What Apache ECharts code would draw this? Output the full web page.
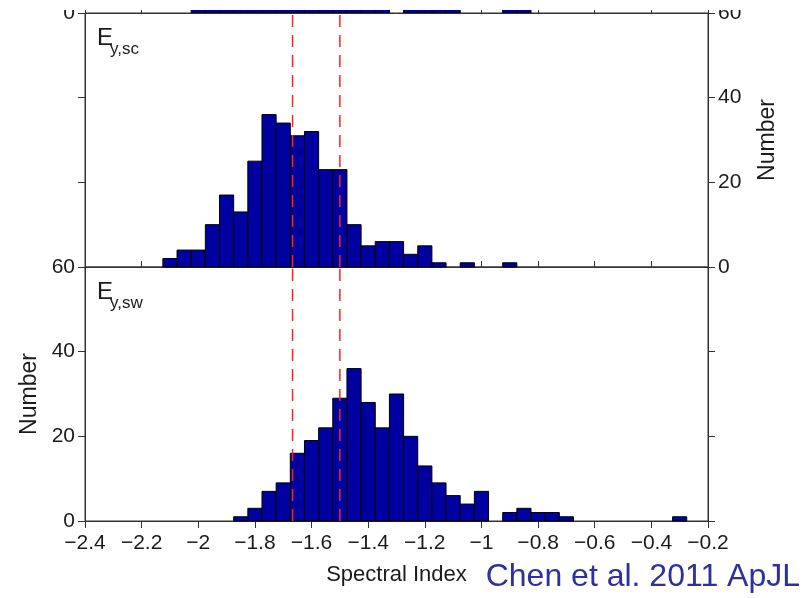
<!DOCTYPE html>
<html>
<head>
<meta charset="utf-8">
<script src="https://cdn.jsdelivr.net/npm/echarts@6/dist/echarts.min.js"></script>
<style>
  html, body { margin: 0; padding: 0; background: #fff; }
  #chart { width: 809px; height: 598px; }
</style>
</head>
<body>
<div id="chart"></div>
<script>
// histogram bins (centre of each 0.05 wide bin) and counts
var binWidth = 0.05;

// panel above, only its bottom edge is visible in the picture
var binsTop = [-2.00, -1.95, -1.90, -1.85, -1.80, -1.75, -1.70, -1.65, -1.60, -1.55, -1.50, -1.45, -1.40, -1.35,
  -1.25, -1.20, -1.15, -1.10, -0.90, -0.85];
var countsTop = [3, 6, 10, 15, 22, 28, 33, 35, 30, 24, 18, 12, 8, 5, 4, 3, 2, 2, 1, 1];

// E y,sc
var binsSc = [-2.10, -2.05, -2.00, -1.95, -1.90, -1.85, -1.80, -1.75, -1.70, -1.65, -1.60, -1.55, -1.50, -1.45,
  -1.40, -1.35, -1.30, -1.25, -1.20, -1.15, -1.05, -0.90];
var countsSc = [2, 4, 4, 10, 17, 13, 25, 36, 34, 31, 32, 23, 23, 10, 5, 6, 6, 3, 5, 1, 1, 1];

// E y,sw
var binsSw = [-1.85, -1.80, -1.75, -1.70, -1.65, -1.60, -1.55, -1.50, -1.45, -1.40, -1.35, -1.30, -1.25, -1.20,
  -1.15, -1.10, -1.05, -1.00, -0.90, -0.85, -0.80, -0.75, -0.70, -0.30];
var countsSw = [1, 3, 7, 9, 16, 19, 22, 29, 36, 28, 22, 30, 20, 13, 9, 6, 4, 7, 2, 3, 2, 2, 1, 1];

// red dashed reference lines
var refLines = [-1.667, -1.5];

var xTicks = [-2.4, -0.2, 0.2];   // min, max, step
var yTicks = [0, 60, 20];

var FONT = 'Liberation Sans, Arial, sans-serif';
var AX = '#333';

function pairs(xs, ys) {
  var out = [];
  for (var i = 0; i < xs.length; i++) out.push([xs[i], ys[i]]);
  return out;
}

function renderBar(params, api) {
  var x = api.value(0);
  var y = api.value(1);
  var p0 = api.coord([x - binWidth / 2, y]);
  var p1 = api.coord([x + binWidth / 2, 0]);
  return {
    type: 'rect',
    shape: { x: p0[0], y: p0[1], width: p1[0] - p0[0], height: p1[1] - p0[1] },
    style: { fill: '#0000a0', stroke: '#000', lineWidth: 1 }
  };
}

function xAxisFor(idx, bottom) {
  return {
    gridIndex: idx,
    type: 'value',
    min: xTicks[0], max: xTicks[1], interval: xTicks[2],
    splitLine: { show: false },
    axisLine: { show: true, onZero: false, lineStyle: { color: AX, width: 1 } },
    axisTick: { show: true, inside: !bottom, length: bottom ? 7 : 6, lineStyle: { color: AX } },
    axisLabel: {
      show: bottom, color: '#1a1a1a', fontFamily: FONT, fontSize: 21, margin: 12,
      showMinLabel: true, showMaxLabel: true,
      formatter: function (v) { return String(Math.round(v * 10) / 10).replace('-', '\u2212'); }
    },
    name: bottom ? 'Spectral Index' : '',
    nameLocation: 'middle',
    nameGap: 43,
    nameTextStyle: { color: '#1a1a1a', fontFamily: FONT, fontSize: 22 }
  };
}

function yAxisFor(idx, pos, labels, name, max) {
  return {
    gridIndex: idx,
    type: 'value',
    position: pos,
    min: yTicks[0], max: max || yTicks[1], interval: max || yTicks[2],
    splitLine: { show: false },
    axisLine: { show: true, lineStyle: { color: AX, width: 1 } },
    axisTick: { show: true, inside: false, length: 7, lineStyle: { color: AX } },
    axisLabel: {
      show: labels, color: '#1a1a1a', fontFamily: FONT, fontSize: 21, margin: 10,
      formatter: function (v) { return (max && v !== 0) ? '' : String(v); }
    },
    name: name || '',
    nameLocation: 'middle',
    nameRotate: 90,
    nameGap: pos === 'left' ? 43 : 48,
    nameTextStyle: { color: '#1a1a1a', fontFamily: FONT, fontSize: 23 }
  };
}

function dashSeries(xi, yi, x) {
  return {
    type: 'line',
    xAxisIndex: xi, yAxisIndex: yi,
    data: [[x, yTicks[0]], [x, yTicks[1]]],
    symbol: 'none', silent: true, z: 5,
    lineStyle: { color: '#ff2020', width: 1.5, type: [12, 8] }
  };
}

var chart = echarts.init(document.getElementById('chart'));

var series = [
  { type: 'custom', xAxisIndex: 0, yAxisIndex: 0, renderItem: renderBar, data: pairs(binsTop, countsTop), clip: true, z: 2 },
  { type: 'custom', xAxisIndex: 1, yAxisIndex: 2, renderItem: renderBar, data: pairs(binsSc, countsSc), z: 2 },
  { type: 'custom', xAxisIndex: 2, yAxisIndex: 4, renderItem: renderBar, data: pairs(binsSw, countsSw), z: 2 }
];
refLines.forEach(function (x) {
  series.push(dashSeries(1, 2, x));
  series.push(dashSeries(2, 4, x));
});

chart.setOption({
  animation: false,
  backgroundColor: '#fff',
  grid: [
    // only the bottom strip of the panel above is inside the picture
    { left: 85, right: 101, top: 0, height: 13, show: false },
    { left: 85, right: 101, top: 13, height: 254, show: true, borderColor: AX, borderWidth: 1 },
    { left: 85, right: 101, top: 267, height: 254, show: true, borderColor: AX, borderWidth: 1 }
  ],
  xAxis: [xAxisFor(0, false), xAxisFor(1, false), xAxisFor(2, true)],
  yAxis: [
    yAxisFor(0, 'left', true, '', 3),
    yAxisFor(0, 'right', false, '', 3),
    yAxisFor(1, 'left', false),
    yAxisFor(1, 'right', true, 'Number'),
    yAxisFor(2, 'left', true, 'Number'),
    yAxisFor(2, 'right', false)
  ],
  series: series,
  graphic: [
    // the figure is cut at the top
    { type: 'rect', z: 100, shape: { x: 0, y: 0, width: 809, height: 10 }, style: { fill: '#fff' } },
    { type: 'text', z: 100, left: 97, top: 26, style: { text: 'E', fontFamily: FONT, fontSize: 24, fill: '#1a1a1a' } },
    { type: 'text', z: 100, left: 110, top: 41, style: { text: 'y,sc', fontFamily: FONT, fontSize: 17, fill: '#1a1a1a' } },
    { type: 'text', z: 100, left: 97, top: 280, style: { text: 'E', fontFamily: FONT, fontSize: 24, fill: '#1a1a1a' } },
    { type: 'text', z: 100, left: 110, top: 295, style: { text: 'y,sw', fontFamily: FONT, fontSize: 17, fill: '#1a1a1a' } },
    { type: 'text', z: 100, right: 9, top: 561, style: { text: 'Chen et al. 2011 ApJL', fontFamily: FONT, fontSize: 32, fill: '#2f2f9f' } }
  ]
});
</script>
</body>
</html>
